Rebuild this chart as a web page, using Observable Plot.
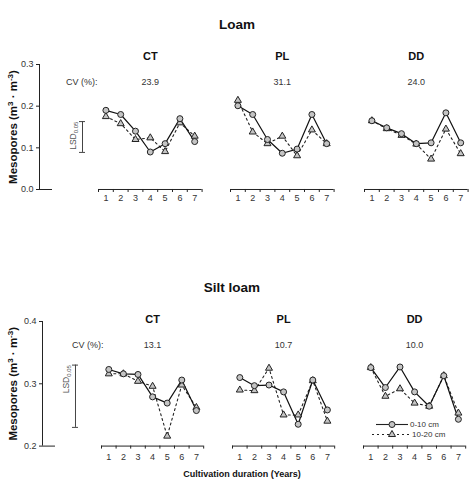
<!DOCTYPE html>
<html>
<head>
<meta charset="utf-8">
<script src="https://cdn.jsdelivr.net/npm/d3@7"></script>
<script src="https://cdn.jsdelivr.net/npm/@observablehq/plot@0.6"></script>
<style>
  body { margin: 0; background: #fff; }
  #fig { position: relative; width: 473px; height: 494px; background: #fff;
         font-family: "Liberation Sans", Arial, sans-serif; color: #111; overflow: hidden; }
  #fig > * { position: absolute; }
  .head { font-weight: bold; transform: translate(-50%, -50%); white-space: nowrap; }
</style>
</head>
<body>
<div id="fig"></div>
<script>
// Years of cultivation and tillage systems
const years = [1, 2, 3, 4, 5, 6, 7];
const systems = ["CT", "PL", "DD"];
const depthLabels = ["0-10 cm", "10-20 cm"];

// Loam: mesopore volume (m3 m-3)
const loamCT_0_10  = [0.190, 0.180, 0.140, 0.090, 0.110, 0.170, 0.115];
const loamCT_10_20 = [0.175, 0.158, 0.120, 0.124, 0.091, 0.160, 0.128];
const loamPL_0_10  = [0.201, 0.180, 0.120, 0.087, 0.097, 0.180, 0.110];
const loamPL_10_20 = [0.214, 0.138, 0.110, 0.128, 0.081, 0.143, 0.110];
const loamDD_0_10  = [0.165, 0.148, 0.134, 0.110, 0.112, 0.184, 0.112];
const loamDD_10_20 = [0.165, 0.146, 0.130, 0.109, 0.073, 0.145, 0.086];
const loamCV = ["23.9", "31.1", "24.0"];
const loamLSD = [0.089, 0.163];
const loamDomain = [0, 0.3];
const loamTicks = [0, 0.1, 0.2, 0.3];

// Silt loam: mesopore volume (m3 m-3)
const siltCT_0_10  = [0.323, 0.316, 0.315, 0.279, 0.269, 0.306, 0.257];
const siltCT_10_20 = [0.316, 0.316, 0.304, 0.296, 0.216, 0.298, 0.262];
const siltPL_0_10  = [0.310, 0.297, 0.298, 0.287, 0.235, 0.306, 0.258];
const siltPL_10_20 = [0.290, 0.289, 0.325, 0.250, 0.250, 0.305, 0.240];
const siltDD_0_10  = [0.326, 0.294, 0.327, 0.287, 0.264, 0.313, 0.243];
const siltDD_10_20 = [0.326, 0.280, 0.292, 0.269, 0.264, 0.313, 0.253];
const siltCV = ["13.1", "10.7", "10.0"];
const siltLSD = [0.230, 0.330];
const siltDomain = [0.2, 0.4];
const siltTicks = [0.2, 0.3, 0.4];

const yLabel = "Mesopores (m3 · m-3)";
const lsdLabel = "LSD0.05";
const cvLabel = "CV (%):";
const xLabel = "Cultivation duration (Years)";

const soils = [
  { name: "Loam", domain: loamDomain, ticks: loamTicks, cv: loamCV, lsd: loamLSD,
    series: [[loamCT_0_10, loamCT_10_20], [loamPL_0_10, loamPL_10_20], [loamDD_0_10, loamDD_10_20]] },
  { name: "Silt loam", domain: siltDomain, ticks: siltTicks, cv: siltCV, lsd: siltLSD,
    series: [[siltCT_0_10, siltCT_10_20], [siltPL_0_10, siltPL_10_20], [siltDD_0_10, siltDD_10_20]] }
];

// Page geometry for each block (pixels)
const layout = [
  { headX: 237, headY: 24, frameTop: 64, frameH: 125, axisX: 39, gutter: 58, stub: 13, lsdX: 43,
    firstYear: [105.3, 237.7, 371.3], step: 14.8, titleDy: -12, cvDy: 14, tickPad: 5 },
  { headX: 232, headY: 287, frameTop: 321, frameH: 124.6, axisX: 42, gutter: 61, stub: 13, lsdX: 33,
    firstYear: [108.3, 239.3, 370.7], step: 14.6, titleDy: -6, cvDy: 20, tickPad: 8 }
];

const MT = 28, MB = 24, PAD = 10;
const font = '"Liberation Sans", Arial, sans-serif';
const baseStyle = { background: "transparent", overflow: "visible", fontFamily: font, fontSize: "9px", color: "#222" };
const markerFill = "#c4c4c4";
const fig = document.getElementById("fig");

function place(el, left, top) {
  el.style.left = left + "px";
  el.style.top = top + "px";
  fig.append(el);
}

// Replace a plain text label with tspans (super/subscripts)
function richText(svg, plain, parts) {
  d3.select(svg).selectAll("text")
    .filter(function () { return this.textContent === plain; })
    .each(function () {
      const t = d3.select(this);
      t.text(null);
      for (const p of parts) {
        const s = t.append("tspan").text(p.text);
        if (p.dy) s.attr("dy", p.dy);
        if (p.size) s.attr("font-size", p.size);
      }
    });
}

function yAxisBlock(sec, soil) {
  const chart = Plot.plot({
    width: sec.axisX + sec.gutter,
    height: MT + sec.frameH + MB,
    marginLeft: sec.axisX, marginRight: 0, marginTop: MT, marginBottom: MB,
    x: { domain: [0, sec.gutter], axis: null },
    y: { domain: soil.domain, axis: null },
    style: baseStyle,
    marks: [
      Plot.ruleX([0], { stroke: "#222" }),
      Plot.ruleY([soil.domain[0]], { x1: 0, x2: sec.stub, stroke: "#222" }),
      Plot.axisY({ ticks: soil.ticks, tickFormat: ".1f", tickSize: 3, tickPadding: 3,
                   label: null, fontSize: 9, stroke: "#222", fill: "#333" }),
      Plot.ruleX([sec.lsdX], { y1: soil.lsd[0], y2: soil.lsd[1], stroke: "#444" }),
      Plot.ruleY(soil.lsd, { x1: sec.lsdX - 3, x2: sec.lsdX + 3, stroke: "#444" }),
      Plot.text([lsdLabel], { text: d => d, x: sec.lsdX - 9, y: soil.lsd[1], rotate: -90,
                              textAnchor: "end", fontSize: 8.5, fill: "#555" }),
      Plot.text([cvLabel], { text: d => d, frameAnchor: "top-right", textAnchor: "end",
                             dy: sec.cvDy, fontSize: 9, fill: "#333" }),
      Plot.text([yLabel], { text: d => d, frameAnchor: "left", textAnchor: "middle", rotate: -90,
                            dx: 13 - sec.axisX, fontWeight: "bold", fontSize: 11.5, fill: "#111" })
    ]
  });
  richText(chart, lsdLabel, [{ text: "LSD" }, { text: "0.05", dy: 2, size: 6 }]);
  richText(chart, yLabel, [
    { text: "Mesopores (m" }, { text: "3", dy: -4, size: 8 },
    { text: " · m", dy: 4 }, { text: "-3", dy: -4, size: 8 }, { text: ")", dy: 4 }
  ]);
  place(chart, 0, sec.frameTop - MT);
}

function panel(sec, soil, i) {
  const [top, deep] = soil.series[i];
  const rows0 = years.map((year, j) => ({ year, value: top[j] }));
  const rows1 = years.map((year, j) => ({ year, value: deep[j] }));
  const bounds = [...years.map(y => y - 0.5), years[years.length - 1] + 0.5];
  const frameW = years.length * sec.step;
  const chart = Plot.plot({
    width: frameW + 2 * PAD,
    height: MT + sec.frameH + MB,
    marginLeft: PAD, marginRight: PAD, marginTop: MT, marginBottom: MB,
    x: { domain: [bounds[0], bounds[bounds.length - 1]], axis: null },
    y: { domain: soil.domain, axis: null },
    style: baseStyle,
    marks: [
      Plot.ruleY([soil.domain[0]], { stroke: "#222" }),
      Plot.axisX({ ticks: bounds, tickSize: 3, tickFormat: () => "", label: null, stroke: "#222" }),
      Plot.axisX({ ticks: years, tickSize: 0, tickPadding: sec.tickPad, tickFormat: "d",
                   label: null, fontSize: 9, fill: "#333" }),
      Plot.line(rows1, { x: "year", y: "value", stroke: "#222", strokeWidth: 1.1, strokeDasharray: "2,3" }),
      Plot.line(rows0, { x: "year", y: "value", stroke: "#111", strokeWidth: 1.2 }),
      Plot.dot(rows1, { x: "year", y: "value", symbol: "triangle", r: 2.6, fill: markerFill, stroke: "#222", strokeWidth: 1 }),
      Plot.dot(rows0, { x: "year", y: "value", r: 3, fill: markerFill, stroke: "#222", strokeWidth: 1 }),
      Plot.text([systems[i]], { text: d => d, frameAnchor: "top", dy: sec.titleDy, fontWeight: "bold", fontSize: 11, fill: "#111" }),
      Plot.text([soil.cv[i]], { text: d => d, frameAnchor: "top", dy: sec.cvDy, fontSize: 9, fill: "#333" })
    ]
  });
  place(chart, sec.firstYear[i] - sec.step / 2 - PAD, sec.frameTop - MT);
}

soils.forEach((soil, k) => {
  const sec = layout[k];
  const head = document.createElement("div");
  head.className = "head";
  head.textContent = soil.name;
  head.style.fontSize = "13.5px";
  place(head, sec.headX, sec.headY);
  yAxisBlock(sec, soil);
  systems.forEach((_, i) => panel(sec, soil, i));
});

// x-axis title
const xt = document.createElement("div");
xt.className = "head";
xt.textContent = xLabel;
xt.style.fontSize = "9px";
place(xt, 242, 474);

// Legend for the two sampling depths
const legend = d3.create("svg").attr("width", 100).attr("height", 30)
  .style("font-family", font).style("font-size", "8px");
const rows = [
  { label: depthLabels[0], y: 9.5, x1: 6, x2: 38, dash: null, sym: d3.symbolCircle, r: 3, tx: 40 },
  { label: depthLabels[1], y: 19.5, x1: 2, x2: 40, dash: "2,3", sym: d3.symbolTriangle, r: 2.6, tx: 42 }
];
for (const r of rows) {
  legend.append("line").attr("x1", r.x1).attr("x2", r.x2).attr("y1", r.y).attr("y2", r.y)
    .attr("stroke", "#222").attr("stroke-width", 1.1).attr("stroke-dasharray", r.dash);
  legend.append("path").attr("d", d3.symbol(r.sym, r.r * r.r * Math.PI)())
    .attr("transform", `translate(22,${r.y})`).attr("fill", markerFill).attr("stroke", "#222");
  legend.append("text").attr("x", r.tx).attr("y", r.y).attr("dy", "0.32em").attr("fill", "#333").text(r.label);
}
place(legend.node(), 370, 415);
</script>
</body>
</html>
